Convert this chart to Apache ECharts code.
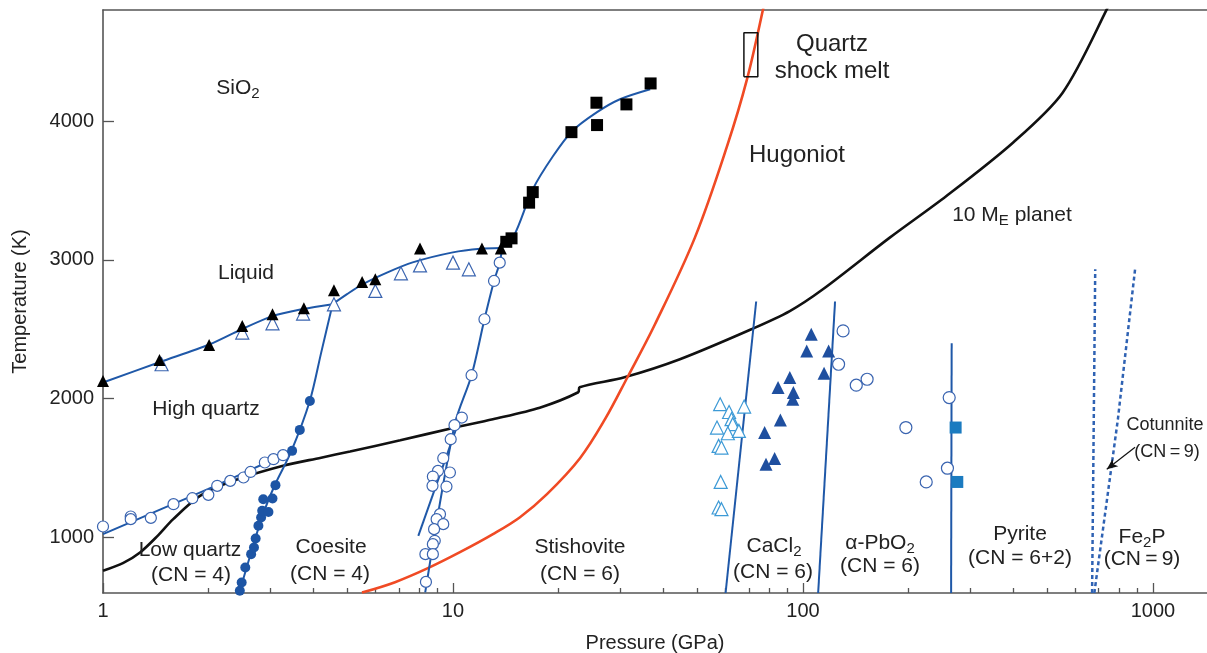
<!DOCTYPE html>
<html><head><meta charset="utf-8">
<script src="https://cdn.jsdelivr.net/npm/echarts@6/dist/echarts.min.js"></script>
<style>html,body{margin:0;padding:0;background:#fff}#c{width:1207px;height:653px}</style>
</head><body><div id="c"></div>
<script>
// ---------- data (pressure GPa, temperature K) ----------
const xMajorTicks = [1, 10, 100, 1000];
const xMinorTicks = [2,3,4,5,6,7,8,9,20,30,40,50,60,70,80,90,200,300,400,500,600,700,800,900];
const yTicks = [1000, 2000, 3000, 4000];

const liquidusLow = [[1.0,2116],[1.455,2264],[2.02,2392],[2.49,2500],[3.04,2593],[3.72,2645],[4.53,2681]];
const liquidusMid = [[4.53,2681],[4.98,2753],[5.53,2825],[6.5,2910],[7.67,2982],[9.99,3054],[12.0,3080],[13.7,3085]];
const liquidusHigh = [[13.7,3085],[14.9,3169],[16.9,3508],[19.3,3746],[21.9,3927],[25.8,4064],[30,4157],[36.6,4229]];
const quartzCoesite = [[2.45,600],[2.62,850],[2.85,1150],[3.1,1380],[3.45,1620],[3.9,1985],[4.2,2330],[4.53,2681]];
const lowHighQuartz = [[1.0,1024],[1.5,1215],[2.0,1350],[2.6,1480],[3.35,1607]];
const coesiteStishA = [[8.33,604],[10.1,1809],[11.3,2169],[12.3,2572],[13.1,2848],[13.6,2980],[13.8,3076]];
const coesiteStishB = [[7.96,1012],[10.4,1840]];
const planet = [[1,760],[1.14,815],[1.276,892],[1.43,1010],[1.587,1132],[1.893,1300],[2.357,1408],[3.27,1516],[4.2,1575],[5.08,1620],[7.07,1700],[10,1789],[13,1852],[17.7,1935],[22.8,2046],[23,2082],[30.9,2154],[44.5,2284],[71.2,2500],[91.7,2631],[114,2788],[177,3160],[257,3460],[398,3844],[552,4204],[738,4804],[760,4900]];
const hugoniot = [[5.495,603],[6.83,678],[8.48,779],[10.47,894],[13.01,1024],[15.54,1146],[18.56,1312],[23.06,1571],[27.19,1852],[31.41,2147],[37.77,2536],[49.14,3162],[60.66,3817],[69.18,4300],[76.87,4804],[78,4900]];
const cacl2Boundary = [[60.1,600],[73.5,2700]];
const pbo2Boundary = [[110.5,600],[123.5,2700]];
const pyriteBoundary = [[265,600],[266,2400]];
const cotunniteA = [[670,600],[684,2932]];
const cotunniteB = [[680,600],[794,1852],[889,2932]];
const cotunniteArrow = [[889,1650],[738,1492]];
const shockMeltBox = [[67.8,4319],[74.3,4319],[74.3,4636],[67.8,4636],[67.8,4319]];

const liquidBlackTri = [[1.0,2127],[1.45,2279],[2.01,2387],[2.5,2524],[3.05,2608],[3.75,2651],[4.57,2781],[5.5,2840],[6.0,2860],[8.05,3081],[12.1,3081],[13.7,3081]];
const liquidOpenTri = [[1.47,2248],[2.5,2476],[3.05,2543],[3.73,2613],[4.57,2680],[6.0,2776],[7.1,2903],[8.05,2960],[10.0,2980],[11.1,2932]];
const liquidSquares = [[14.2,3130],[14.7,3155],[16.5,3412],[16.9,3488],[21.8,3920],[25.7,4132],[25.8,3971],[31.3,4120],[36.7,4271]];
const quartzOpenCircles = [[1.0,1079],[1.2,1151],[1.2,1132],[1.37,1141],[1.59,1240],[1.8,1283],[2.0,1307],[2.12,1372],[2.31,1408],[2.52,1432],[2.64,1472],[2.9,1540],[3.07,1564],[3.27,1593]];
const coesiteFilledCircles = [[2.46,616],[2.49,676],[2.55,784],[2.65,880],[2.70,928],[2.73,993],[2.78,1084],[2.83,1144],[2.85,1192],[2.97,1184],[2.87,1276],[3.05,1281],[3.11,1377],[3.47,1624],[3.65,1775],[3.90,1983]];
const stishOpenCircles = [[13.6,2980],[13.1,2848],[12.3,2572],[11.3,2169],[10.6,1864],[10.1,1809],[9.85,1708],[9.38,1571],[9.06,1480],[8.76,1439],[9.8,1468],[8.74,1372],[9.58,1367],[9.18,1168],[8.98,1132],[9.38,1096],[8.83,1060],[8.87,976],[8.76,952],[8.34,880],[8.76,880],[8.37,680]];
const cacl2OpenTri = [[58.0,1960],[61.5,1904],[67.9,1943],[62.5,1852],[63.0,1816],[56.8,1792],[61.0,1751],[65.6,1768],[57.4,1660],[58.5,1648],[58.2,1400],[57.4,1216],[58.5,1204]];
const pbo2FilledTri = [[105.6,2464],[102.5,2344],[118.4,2344],[114.9,2183],[91.7,2152],[84.9,2080],[93.9,2044],[93.5,1996],[86.2,1847],[77.7,1756],[83.0,1569],[78.4,1528]];
const highPOpenCircles = [[130.2,2488],[126.4,2248],[142.0,2097],[152.5,2140],[196.8,1792],[261.7,2008],[258.7,1499],[225,1400]];
const pyriteSquares = [[273,1792],[276,1400]];

// ---------- chart ----------
const F = '"Liberation Sans", Arial, Helvetica, sans-serif';
const TXT = '#222';
const BLUE = '#1f58a8';
const chart = echarts.init(document.getElementById('c'));

function lineS(data, color, width, opts) {
  return Object.assign({type:'line', data, xAxisIndex:0, yAxisIndex:0, symbol:'none', silent:true,
    lineStyle:{color, width}, z:3}, opts || {});
}
function scatS(data, symbol, size, fill, stroke, bw, z) {
  return {type:'scatter', data, symbol, symbolSize:size, silent:true, xAxisIndex:0, yAxisIndex:0, z: z || 5,
    itemStyle:{color:fill, borderColor:stroke, borderWidth:bw, opacity:1}};
}
function label(x, y, text, size, rich) {
  const st = {text, x:0, y:0, align:'center', verticalAlign:'middle', fontSize:size, fontFamily:F, fill:TXT};
  if (rich) st.rich = rich;
  return {type:'text', x, y, style:st, z:100, silent:true};
}
const sub = (s) => ({a:{fontSize:s, fontFamily:F, fill:TXT}, b:{fontSize:15, fontFamily:F, fill:TXT, padding:[12,0,0,0]}});
const plain = v => String(v);

const option = {
  animation:false,
  backgroundColor:'#fff',
  grid:{left:103, right:0, top:10, bottom:60, outerBoundsMode:'none', containLabel:false},
  xAxis:[
    {type:'log', min:1, max:1427, position:'bottom',
     name:'Pressure (GPa)', nameLocation:'middle', nameGap:40,
     nameTextStyle:{fontSize:20, fontFamily:F, color:TXT},
     axisLine:{show:true, lineStyle:{color:'#555', width:1.6}},
     axisTick:{show:true, inside:true, length:10, customValues:xMajorTicks, lineStyle:{color:'#555', width:1.3}},
     axisLabel:{show:true, customValues:xMajorTicks, formatter:plain, margin:8, fontSize:20, fontFamily:F, color:TXT},
     splitLine:{show:false}, minorTick:{show:false}},
    {type:'log', min:1, max:1427, position:'bottom',
     axisLine:{show:false},
     axisTick:{show:true, inside:true, length:5, customValues:xMinorTicks, lineStyle:{color:'#555', width:1.3}},
     axisLabel:{show:false}, splitLine:{show:false}},
    {type:'log', min:1, max:1427, position:'top',
     axisLine:{show:true, lineStyle:{color:'#555', width:1.6}},
     axisTick:{show:false}, axisLabel:{show:false}, splitLine:{show:false}}
  ],
  yAxis:[
    {type:'value', min:600, max:4800,
     name:'Temperature (K)', nameLocation:'middle', nameGap:73,
     nameTextStyle:{fontSize:20, fontFamily:F, color:TXT},
     axisLine:{show:true, lineStyle:{color:'#555', width:1.6}},
     axisTick:{show:true, inside:true, length:11, customValues:yTicks, lineStyle:{color:'#555', width:1.3}},
     axisLabel:{show:true, customValues:yTicks, formatter:plain, margin:9, fontSize:20, fontFamily:F, color:TXT},
     splitLine:{show:false}}
  ],
  series:[
    lineS(planet, '#111', 2.6, {smooth:0.3}),
    lineS(hugoniot, '#f04a24', 2.6, {smooth:0.35}),
    lineS(liquidusLow, BLUE, 2, {smooth:0.3}),
    lineS(liquidusMid, BLUE, 2, {smooth:0.3}),
    lineS(liquidusHigh, BLUE, 2, {smooth:0.3}),
    lineS(quartzCoesite, BLUE, 2, {smooth:0.3}),
    lineS(lowHighQuartz, BLUE, 2, {smooth:0.3}),
    lineS(coesiteStishA, BLUE, 2, {smooth:0.3}),
    lineS(coesiteStishB, BLUE, 2),
    lineS(cacl2Boundary, BLUE, 2),
    lineS(pbo2Boundary, BLUE, 2),
    lineS(pyriteBoundary, BLUE, 2),
    lineS(cotunniteA, '#2f62b3', 2.5, {lineStyle:{color:'#2f62b3', width:2.5, type:[4,3]}}),
    lineS(cotunniteB, '#2f62b3', 2.5, {lineStyle:{color:'#2f62b3', width:2.5, type:[4,3]}}),
    lineS(cotunniteArrow, '#111', 1, {lineStyle:{opacity:0}, markLine:{silent:true, symbol:['none','arrow'], symbolSize:[7,11],
      lineStyle:{color:'#111', width:1.2, type:'solid'}, label:{show:false},
      data:[[{coord:cotunniteArrow[0]},{coord:cotunniteArrow[1]}]]}}),
    lineS(shockMeltBox, '#111', 1.5),
    scatS(quartzOpenCircles, 'circle', 11, '#fff', '#3a64b0', 1.2),
    scatS(coesiteFilledCircles, 'circle', 10, '#1d55a5', '#1d55a5', 0),
    scatS(stishOpenCircles, 'circle', 11, '#fff', '#3a64b0', 1.2),
    scatS(liquidOpenTri, 'triangle', 13, '#fff', '#3a64b0', 1.2),
    scatS(liquidBlackTri, 'triangle', 12, '#000', '#000', 0, 6),
    scatS(liquidSquares, 'rect', 12, '#000', '#000', 0, 6),
    scatS(cacl2OpenTri, 'triangle', 13, '#fff', '#3d9ad6', 1.2),
    scatS(pbo2FilledTri, 'triangle', 13, '#1f4f9f', '#1f4f9f', 0),
    scatS(highPOpenCircles, 'circle', 12, '#fff', '#3a64b0', 1.2),
    scatS(pyriteSquares, 'rect', 12, '#1b7bc0', '#1b7bc0', 0, 6)
  ],
  graphic:[
    label(238, 88, '{a|SiO}{b|2}', 21, sub(21)),
    label(246, 273, 'Liquid', 21),
    label(206, 409, 'High quartz', 21),
    label(190, 550, 'Low quartz', 21),
    label(191, 575, '(CN = 4)', 21),
    label(331, 547, 'Coesite', 21),
    label(330, 574, '(CN = 4)', 21),
    label(580, 547, 'Stishovite', 21),
    label(580, 574, '(CN = 6)', 21),
    label(774, 546, '{a|CaCl}{b|2}', 21, sub(21)),
    label(773, 572, '(CN = 6)', 21),
    label(880, 543, '{a|α-PbO}{b|2}', 21, sub(21)),
    label(880, 566, '(CN = 6)', 21),
    label(1020, 534, 'Pyrite', 21),
    label(1020, 558, '(CN = 6+2)', 21),
    label(1142, 537, '{a|Fe}{b|2}{a|P}', 21, sub(21)),
    label(1142, 559, '(CN\u2009=\u20099)', 21),
    label(1165, 425, 'Cotunnite', 18),
    label(1167, 452, '(CN\u2009=\u20099)', 18),
    label(832, 44, 'Quartz', 24),
    label(832, 71, 'shock melt', 24),
    label(797, 155, 'Hugoniot', 24),
    label(1012, 215, '{a|10 M}{b|E}{a| planet}', 21, sub(21))
  ]
};
chart.setOption(option);
</script></body></html>
